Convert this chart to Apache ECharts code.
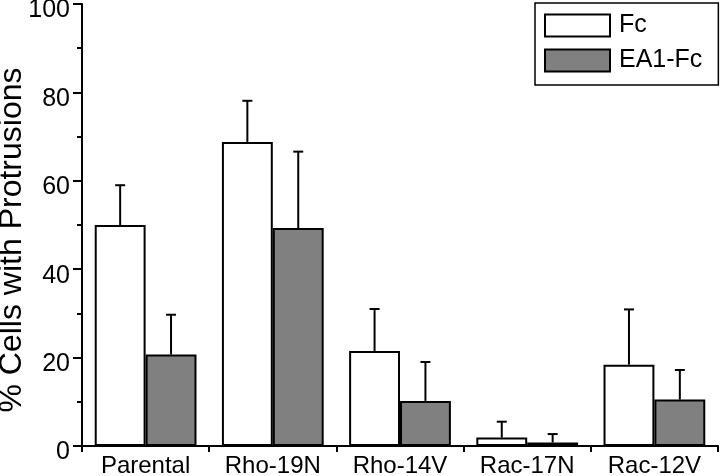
<!DOCTYPE html>
<html>
<head>
<meta charset="utf-8">
<script src="https://cdn.jsdelivr.net/npm/echarts@6/dist/echarts.min.js"></script>
<style>html,body{margin:0;padding:0;background:#fff;}#c{width:720px;height:476px;}</style>
</head>
<body>
<div id="c"></div>
<script>
var categories = ['Parental', 'Rho-19N', 'Rho-14V', 'Rac-17N', 'Rac-12V'];
var fcMean = [50, 68.8, 21.5, 1.9, 18.4];
var fcSd = [9, 9.3, 9.5, 3.6, 12.5];
var eaMean = [20.7, 49.3, 10.2, 0.8, 10.5];
var eaSd = [9, 17.3, 8.8, 1.9, 6.7];
var yTicks = [0, 20, 40, 60, 80, 100];

var FONT = "'Liberation Sans', Arial, Helvetica, sans-serif";

function errData(mean, sd) {
  return mean.map(function (m, i) { return [i, m, m + sd[i]]; });
}
function errRender(offset) {
  return function (params, api) {
    var i = api.value(0);
    var p0 = api.coord([i, api.value(1)]);
    var p1 = api.coord([i, api.value(2)]);
    var band = api.size([1, 0])[0];
    var cx = p0[0] + offset * band;
    var cap = 5;
    var st = { stroke: '#000', lineWidth: 2 };
    return {
      type: 'group',
      children: [
        { type: 'line', shape: { x1: cx, y1: p0[1], x2: cx, y2: p1[1] }, style: st },
        { type: 'line', shape: { x1: cx - cap, y1: p1[1], x2: cx + cap, y2: p1[1] }, style: st }
      ]
    };
  };
}

var chart = echarts.init(document.getElementById('c'));
chart.setOption({
  animation: false,
  backgroundColor: '#fff',
  textStyle: { fontFamily: FONT },
  grid: { left: 82, right: 2, top: 4, bottom: 30, containLabel: false, outerBoundsMode: 'none' },
  legend: {
    data: ['Fc', 'EA1-Fc'],
    orient: 'vertical',
    left: 535, top: 3,
    padding: [10, 16, 12, 9],
    itemWidth: 65, itemHeight: 22, itemGap: 10,
    borderColor: '#000', borderWidth: 1.5, borderRadius: 0,
    icon: 'rect',
    textStyle: { fontFamily: FONT, fontSize: 25, color: '#000', padding: [0, 0, 0, 4] }
  },
  xAxis: {
    type: 'category',
    data: categories,
    axisLine: { lineStyle: { color: '#000', width: 2 } },
    axisTick: { show: true, length: 6, lineStyle: { color: '#000', width: 2 }, alignWithLabel: false },
    axisLabel: { color: '#000', fontSize: 24, fontFamily: FONT, margin: 8 }
  },
  yAxis: {
    type: 'value',
    min: 0, max: 100, interval: 20,
    name: '% Cells with Protrusions',
    nameLocation: 'middle',
    nameGap: 54,
    nameMoveOverlap: false,
    nameTextStyle: { color: '#000', fontSize: 32, fontFamily: FONT, padding: [0, 30, 0, 0] },
    axisLine: { show: true, lineStyle: { color: '#000', width: 2 } },
    axisTick: { show: true, length: 9, lineStyle: { color: '#000', width: 2 } },
    minorTick: { show: true, splitNumber: 2, length: 5, lineStyle: { color: '#000', width: 2 } },
    splitLine: { show: false },
    axisLabel: {
      color: '#000', fontSize: 25, fontFamily: FONT, margin: 12,
      verticalAlign: 'top', lineHeight: 13,
      formatter: function (v) { return yTicks.indexOf(v) >= 0 ? String(v) : ''; }
    }
  },
  series: [
    {
      name: 'Fc', type: 'bar', data: fcMean,
      barGap: '0%', barCategoryGap: '20%',
      itemStyle: { color: '#fff', borderColor: '#000', borderWidth: 2 }
    },
    {
      name: 'EA1-Fc', type: 'bar', data: eaMean,
      barGap: '0%', barCategoryGap: '20%',
      itemStyle: { color: '#808080', borderColor: '#000', borderWidth: 2 }
    },
    {
      type: 'custom', name: 'errFc', data: errData(fcMean, fcSd),
      renderItem: errRender(-0.2), z: 3, silent: true
    },
    {
      type: 'custom', name: 'errEa', data: errData(eaMean, eaSd),
      renderItem: errRender(0.2), z: 3, silent: true
    }
  ]
});
</script>
</body>
</html>
